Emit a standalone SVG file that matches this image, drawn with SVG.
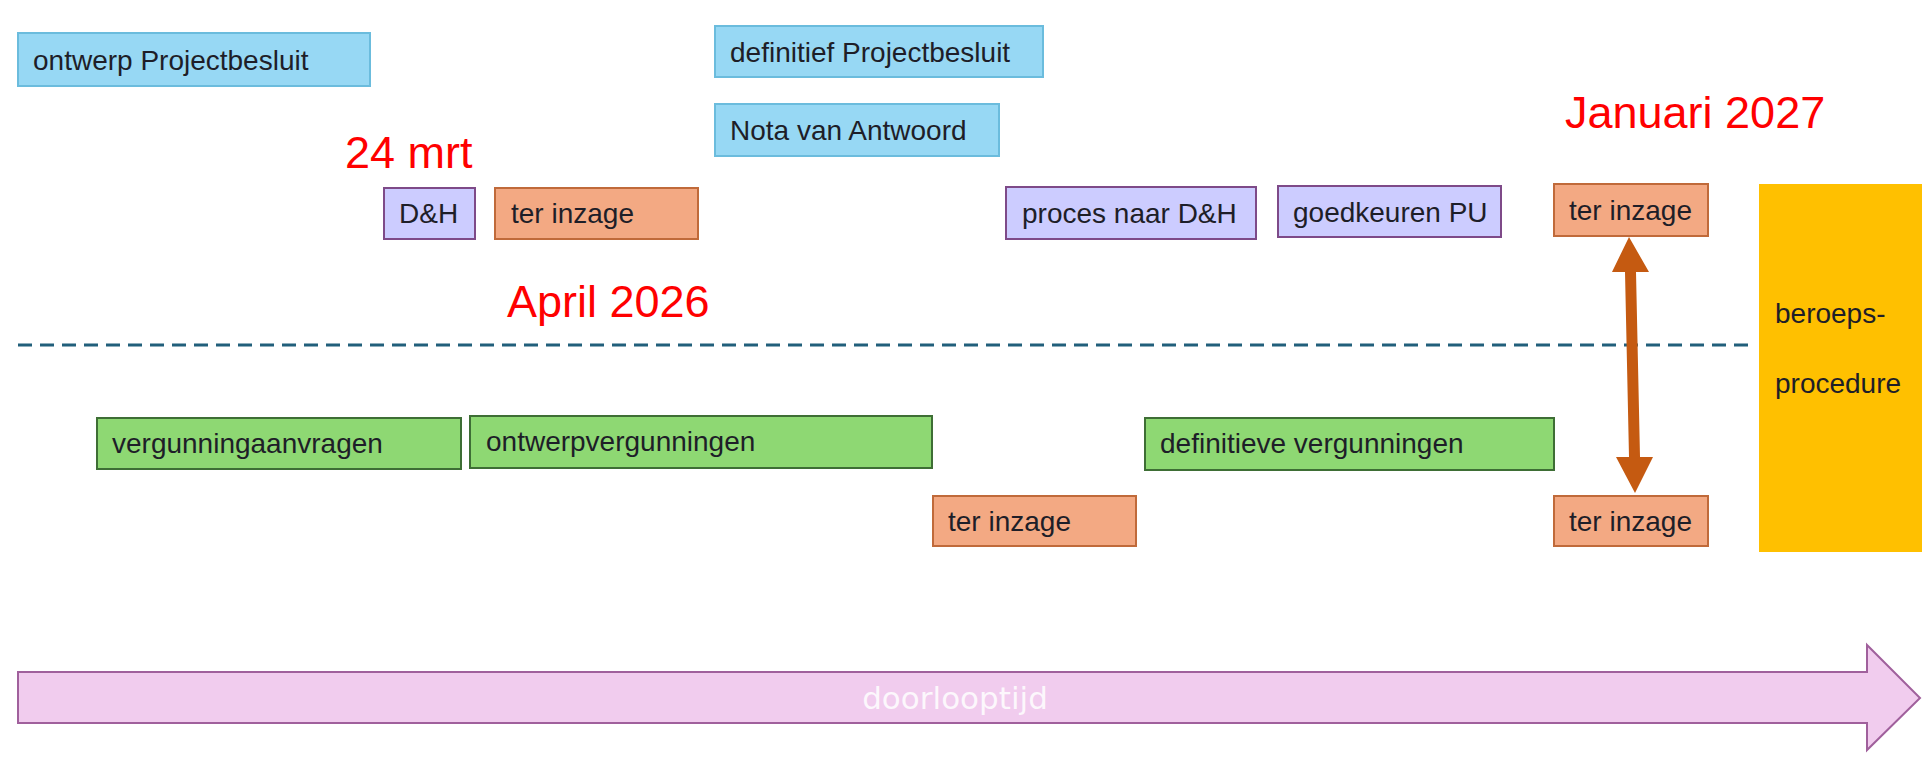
<svg xmlns="http://www.w3.org/2000/svg" width="1926" height="759" viewBox="0 0 1926 759">
<style>
  .box { stroke-width: 2; }
  .blue { fill: #97D8F4; stroke: #6BBCDD; }
  .purple { fill: #CCCCFF; stroke: #7E4A88; }
  .orange { fill: #F3A983; stroke: #C06A3A; }
  .green { fill: #8ED873; stroke: #3E6E35; }
  .lbl { font-family: "Liberation Sans", Arial, sans-serif; font-size: 28px; fill: #1E1E28; }
  .red { font-family: "Liberation Sans", Arial, sans-serif; font-size: 45px; fill: #FF0000; }
</style>
<rect x="0" y="0" width="1926" height="759" fill="#FFFFFF"/>

<g id="separator">
  <line x1="18" y1="345" x2="1754" y2="345" stroke="#215F7B" stroke-width="3" stroke-dasharray="14 8"/>
</g>

<g id="date-24mrt"><text class="red" x="345" y="168">24 mrt</text></g>
<g id="date-april2026"><text class="red" x="507" y="317">April 2026</text></g>
<g id="date-januari2027"><text class="red" x="1565" y="128">Januari 2027</text></g>

<g id="ontwerp-projectbesluit">
  <rect class="box blue" x="18" y="33" width="352" height="53"/>
  <text class="lbl" x="33" y="70">ontwerp Projectbesluit</text>
</g>
<g id="definitief-projectbesluit">
  <rect class="box blue" x="715" y="26" width="328" height="51"/>
  <text class="lbl" x="730" y="62">definitief Projectbesluit</text>
</g>
<g id="nota-van-antwoord">
  <rect class="box blue" x="715" y="104" width="284" height="52"/>
  <text class="lbl" x="730" y="140">Nota van Antwoord</text>
</g>

<g id="dh">
  <rect class="box purple" x="384" y="188" width="91" height="51"/>
  <text class="lbl" x="399" y="223">D&amp;H</text>
</g>
<g id="ter-inzage-1">
  <rect class="box orange" x="495" y="188" width="203" height="51"/>
  <text class="lbl" x="511" y="223">ter inzage</text>
</g>
<g id="proces-naar-dh">
  <rect class="box purple" x="1006" y="187" width="250" height="52"/>
  <text class="lbl" x="1022" y="223">proces naar D&amp;H</text>
</g>
<g id="goedkeuren-pu">
  <rect class="box purple" x="1278" y="186" width="223" height="51"/>
  <text class="lbl" x="1293" y="222">goedkeuren PU</text>
</g>
<g id="ter-inzage-top-right">
  <rect class="box orange" x="1554" y="184" width="154" height="52"/>
  <text class="lbl" x="1569" y="220">ter inzage</text>
</g>

<g id="beroepsprocedure">
  <rect x="1759" y="184" width="163" height="368" fill="#FFC000"/>
  <text class="lbl" x="1775" y="323">beroeps-</text>
  <text class="lbl" x="1775" y="393">procedure</text>
</g>

<g id="vergunningaanvragen">
  <rect class="box green" x="97" y="418" width="364" height="51"/>
  <text class="lbl" x="112" y="453">vergunningaanvragen</text>
</g>
<g id="ontwerpvergunningen">
  <rect class="box green" x="470" y="416" width="462" height="52"/>
  <text class="lbl" x="486" y="451">ontwerpvergunningen</text>
</g>
<g id="definitieve-vergunningen">
  <rect class="box green" x="1145" y="418" width="409" height="52"/>
  <text class="lbl" x="1160" y="453">definitieve vergunningen</text>
</g>
<g id="ter-inzage-2">
  <rect class="box orange" x="933" y="496" width="203" height="50"/>
  <text class="lbl" x="948" y="531">ter inzage</text>
</g>
<g id="ter-inzage-bottom-right">
  <rect class="box orange" x="1554" y="496" width="154" height="50"/>
  <text class="lbl" x="1569" y="531">ter inzage</text>
</g>

<g id="connectors">
  <path d="M1629,237 L1649,272 L1636,272 L1640,457 L1653,457 L1635,493 L1616,457 L1629,457 L1625,272 L1612,272 Z" fill="#C55A11"/>
</g>

<g id="doorlooptijd">
  <path d="M18,672 L1867,672 L1867,645 L1920,698 L1867,750 L1867,723 L18,723 Z" fill="#F1CCEE" stroke="#A0609C" stroke-width="2"/>
  <text x="955" y="709" text-anchor="middle" font-family="DejaVu Sans, sans-serif" font-size="31" fill="#FFFFFF" fill-opacity="0.85">doorlooptijd</text>
</g>
</svg>
